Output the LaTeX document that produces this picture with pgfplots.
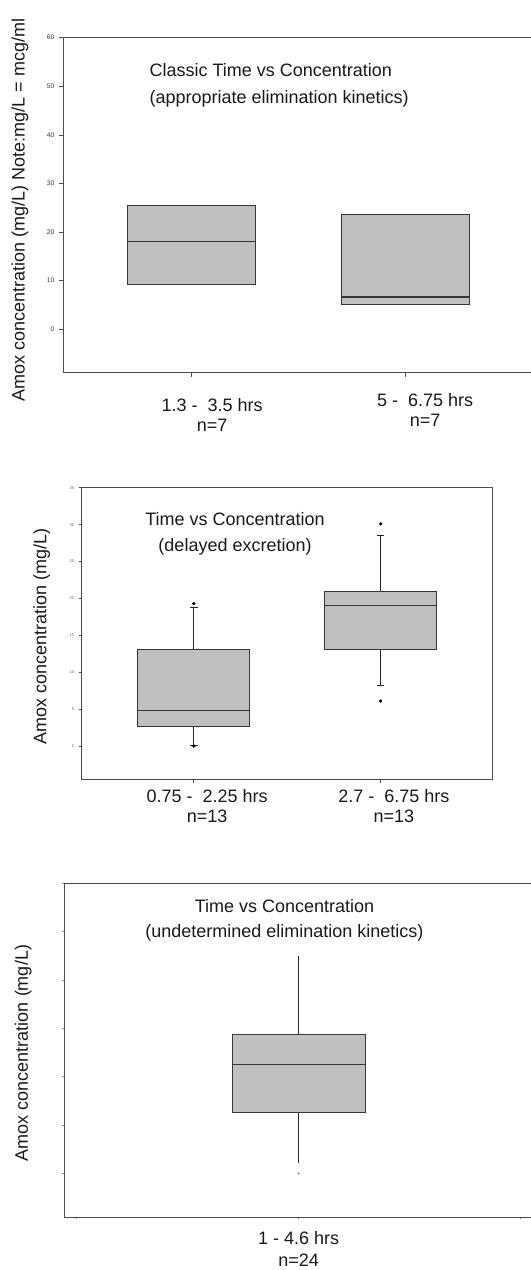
\documentclass[border=0pt]{standalone}
\usepackage{fontspec}
\setmainfont{Liberation Sans}
\usepackage{pgfplots}
\pgfplotsset{compat=1.18}

\definecolor{boxfill}{RGB}{192,192,192}
\definecolor{boxline}{RGB}{55,55,55}
\definecolor{frame}{RGB}{75,75,75}
\definecolor{txt}{RGB}{25,25,25}

\newcommand{\lab}{\fontsize{13.5}{15}\selectfont}

\pgfplotsset{
  panel/.style={
    scale only axis,
    anchor=south west,
    axis line style={frame, line width=0.75pt},
    tick style={frame, line width=0.5pt},
    tick align=outside,
    xtick pos=bottom, ytick pos=left,
    major tick length=3pt,
    /pgf/number format/assume math mode=true,
    xticklabel style={align=center, font=\lab, text=txt},
    ylabel style={font=\lab, text=txt, anchor=center, rotate=0},
  },
  boxst/.style={draw=boxline, fill=boxfill, line width=0.75pt},
  medst/.style={draw=boxline, line width=0.9pt},
  whisk/.style={draw=black!85, line width=0.6pt},
  outl/.style={only marks, mark=*, mark size=1.1pt, mark options={fill=black, draw=black, line width=0.3pt}},
}

\begin{document}
\begin{tikzpicture}
\useasboundingbox (0,0) rectangle (398.25pt,952.5pt);

% ---------- classic elimination: boxes only (n=7) ----------
\begin{axis}[panel,
  at={(47.25pt,672.75pt)}, width=353.1pt, height=251.5pt,
  xmin=0.4, xmax=2.6, ymin=-9, ymax=60,
  ytick={0,10,...,60},
  yticklabel style={font=\fontsize{5}{6}\selectfont, text=black!80},
  xtick={1},
  xticklabels={{1.3 -\ \ 3.5 hrs\\n=7}},
  xticklabel style={xshift=15.5pt, yshift=-12.5pt},
  extra x ticks={2},
  extra x tick labels={{5 -\ \ 6.75 hrs\\n=7}},
  extra x tick style={xticklabel style={xshift=-0.75pt, yshift=4pt}},
  ylabel={Amox concentration (mg/L) Note:mg/L = mcg/ml},
  ylabel style={at={(axis description cs:-0.0913,0.486)}},
]
% 1.3 - 3.5 hrs: Q1 9.2, median 18.1, Q3 25.5
\addplot[boxst] coordinates {(0.7,9.2) (1.3,9.2) (1.3,25.5) (0.7,25.5)} -- cycle;
\addplot[medst] coordinates {(0.7,18.1) (1.3,18.1)};
% 5 - 6.75 hrs: Q1 5.0, median 6.65, Q3 23.6
\addplot[boxst] coordinates {(1.7,5.0) (2.3,5.0) (2.3,23.6) (1.7,23.6)} -- cycle;
\addplot[medst] coordinates {(1.7,6.65) (2.3,6.65)};
\node[anchor=west, align=left, font=\fontsize{13.5}{20}\selectfont, text=txt]
  at (axis description cs:0.174,0.857) {Classic Time vs Concentration\\(appropriate elimination kinetics)};
\end{axis}

% ---------- delayed excretion (n=13) ----------
\begin{axis}[panel,
  at={(61.3pt,367.5pt)}, width=308.25pt, height=219.2pt,
  xmin=0.4, xmax=2.6, ymin=-4.6, ymax=35,
  ytick={0,5,...,35},
  major tick length=2.2pt,
  yticklabel style={font=\fontsize{3}{3.5}\selectfont, text=black!60},
  xtick={1,2},
  xticklabels={{0.75 -\ \ 2.25 hrs\\n=13},{2.7 -\ \ 6.75 hrs\\n=13}},
  xticklabel style={xshift=10pt, yshift=-1.5pt},
  ylabel={Amox concentration (mg/L)},
  ylabel style={at={(axis description cs:-0.0973,0.4926)}},
]
% 0.75 - 2.25 hrs
\addplot[whisk] coordinates {(1,13.06) (1,18.74)};
\addplot[whisk] coordinates {(1,0.14) (1,2.61)};
\addplot[whisk] coordinates {(0.98,18.74) (1.02,18.74)};
\addplot[whisk] coordinates {(0.98,0.14) (1.02,0.14)};
\addplot[boxst] coordinates {(0.7,2.61) (1.3,2.61) (1.3,13.06) (0.7,13.06)} -- cycle;
\addplot[medst] coordinates {(0.7,4.87) (1.3,4.87)};
\addplot[outl] coordinates {(1,19.3) (1,0)};
% 2.7 - 6.75 hrs
\addplot[whisk] coordinates {(2,20.99) (2,28.6)};
\addplot[whisk] coordinates {(2,8.2) (2,13.1)};
\addplot[whisk] coordinates {(1.98,28.6) (2.02,28.6)};
\addplot[whisk] coordinates {(1.98,8.2) (2.02,8.2)};
\addplot[boxst] coordinates {(1.7,13.1) (2.3,13.1) (2.3,20.99) (1.7,20.99)} -- cycle;
\addplot[medst] coordinates {(1.7,19.0) (2.3,19.0)};
\addplot[outl] coordinates {(2,30.1) (2,6.1)};
\node[align=center, font=\fontsize{13.5}{19.3}\selectfont, text=txt]
  at (axis description cs:0.373,0.842) {Time vs Concentration\\(delayed excretion)};
\end{axis}

% ---------- undetermined kinetics (n=24) ----------
\begin{axis}[panel,
  at={(48.2pt,39.5pt)}, width=359pt, height=250.5pt,
  xmin=-0.056, xmax=2.1, ymin=-9.1, ymax=60,
  ytick={0,10,...,60}, yticklabels={,,,,,,},
  major tick length=1.5pt,
  tick style={black!45, line width=0.4pt},
  xtick={0,1,2},
  xticklabels={{},{1 - 4.6 hrs\\n=24},{}},
  xticklabel style={yshift=-5.6pt, font=\fontsize{13.5}{16.5}\selectfont},
  ylabel={Amox concentration (mg/L)},
  ylabel style={at={(axis description cs:-0.0856,0.492)}},
]
\addplot[whisk] coordinates {(1,28.76) (1,44.97)};
\addplot[whisk] coordinates {(1,2.2) (1,12.62)};
\addplot[boxst] coordinates {(0.7,12.62) (1.3,12.62) (1.3,28.76) (0.7,28.76)} -- cycle;
\addplot[medst] coordinates {(0.7,22.55) (1.3,22.55)};
\addplot[only marks, mark=*, mark size=0.35pt, black!70] coordinates {(1,0)};
\node[align=center, font=\fontsize{13.5}{18.75}\selectfont, text=txt]
  at (axis description cs:0.46,0.888) {Time vs Concentration\\(undetermined elimination kinetics)};
\end{axis}
\end{tikzpicture}
\end{document}
